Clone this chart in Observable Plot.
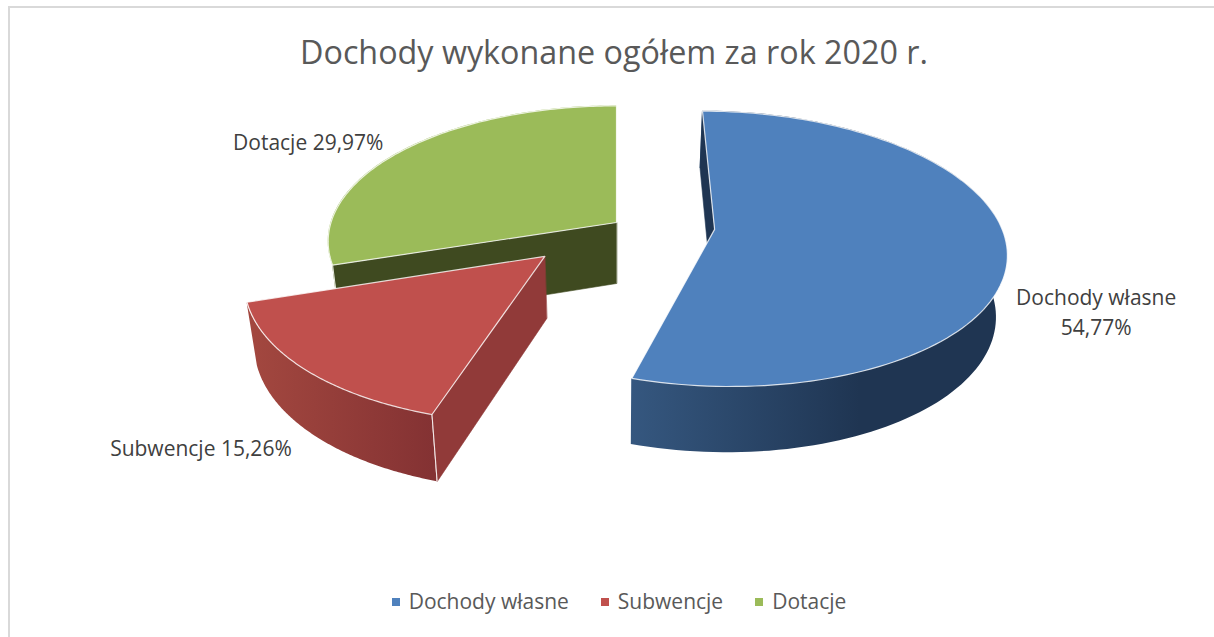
<!DOCTYPE html>
<html lang="pl">
<head>
<meta charset="utf-8">
<script src="https://cdn.jsdelivr.net/npm/d3@7"></script>
<script src="https://cdn.jsdelivr.net/npm/@observablehq/plot@0.6"></script>
<style>
  html, body { margin: 0; padding: 0; background: #fff; }
  #page { position: relative; width: 1214px; height: 637px; overflow: hidden; font-family: "Open Sans", sans-serif; }
  #frame { position: absolute; left: 8px; top: 6px; right: 0; bottom: -4px; border-left: 2px solid #d9d9d9; border-top: 2px solid #d9d9d9; }
  #title { position: relative; height: 84px; line-height: 102px; text-align: center; font-size: 32.3px; color: #595959; white-space: nowrap; padding-left: 14px; box-sizing: border-box; }
  #chart { position: relative; height: 490px; }
  #legend { position: relative; height: 63px; display: flex; justify-content: center; align-items: flex-start; padding: 13px 0 0 24px; box-sizing: border-box; font-size: 21px; color: #595959; }
  .item { display: flex; align-items: center; margin: 0 16px; line-height: 28px; }
  .swatch { width: 8px; height: 8px; margin-right: 9px; margin-top: 2px; }
</style>
</head>
<body>
<div id="page">
  <div id="frame"></div>
  <div id="title">Dochody wykonane ogółem za rok 2020 r.</div>
  <div id="chart"></div>
  <div id="legend"></div>
</div>
<script>
// Data
const categories = ["Dochody własne", "Subwencje", "Dotacje"];
const shares = [54.77, 15.26, 29.97];
const explosion = [0.345, 0.345, 0];
const labelBreaks = [true, false, false];

// Styles
const topColors = ["#4f81bd", "#c0504d", "#9bbb59"];
const wallColors = ["#1f3552", "#913a39", "#3f4a20"];
const rimLight = ["#35577f", "#a2473f", "#a3c060"];
const rimDark = ["#1f3552", "#843233", "#9bbb59"];
const rimGradientX = [[632, 860], [255, 432], [325, 340]];
const labelDx = [89, -104, -95];
const labelDy = [60, 77, -10];

// 3D view
const view = {x0: 616, y0: 222, a: 285.5, b: 133, p: 0.14, depth: 61, shrinkX: 0.972, growY: 1.032};
function project(wx, wz, base) {
  const s = 1 / (1 + view.p * wz);
  return {
    x: view.x0 + (base ? view.shrinkX : 1) * view.a * wx * s,
    y: view.y0 + (base ? view.depth : 0) - (base ? view.growY : 1) * view.b * wz * s
  };
}

const total = d3.sum(shares);
let running = 0;
const slices = categories.map((name, i) => {
  const start = running / total * 2 * Math.PI;
  running += shares[i];
  const end = running / total * 2 * Math.PI;
  const mid = (start + end) / 2;
  return {
    i, name, start, end, mid,
    cx: explosion[i] * Math.sin(mid),
    cz: explosion[i] * Math.cos(mid)
  };
});
const rimPoint = (sl, t, base) => project(sl.cx + Math.sin(t), sl.cz + Math.cos(t), base);
const apex = (sl, base) => project(sl.cx, sl.cz, base);
const arc = (sl) => d3.range(0, 121).map(j => sl.start + (sl.end - sl.start) * j / 120);

function topPolygon(sl) {
  return [apex(sl, false), ...arc(sl).map(t => rimPoint(sl, t, false))];
}
function wall(sl, t) {
  return [apex(sl, false), rimPoint(sl, t, false), rimPoint(sl, t, true), apex(sl, true)];
}
function rimRows(sl) {
  return arc(sl).map(t => {
    const p = rimPoint(sl, t, false), q = rimPoint(sl, t, true);
    return {x1: p.x, y1: p.y, x2: q.x, y2: q.y};
  });
}

// Horizontal gradients for the curved sides, in the SVG's pixel space
function gradients() {
  const defs = d3.create("svg:defs");
  slices.forEach(sl => {
    const g = defs.append("linearGradient")
      .attr("id", "rim" + sl.i)
      .attr("gradientUnits", "userSpaceOnUse")
      .attr("x1", rimGradientX[sl.i][0]).attr("x2", rimGradientX[sl.i][1])
      .attr("y1", 0).attr("y2", 0);
    g.append("stop").attr("offset", 0).attr("stop-color", rimLight[sl.i]);
    g.append("stop").attr("offset", 1).attr("stop-color", rimDark[sl.i]);
  });
  return defs.node();
}

function polygon(points, fill, extra = {}) {
  return Plot.line(points, {x: "x", y: "y", fill, stroke: fill, strokeWidth: 0.6, curve: "linear-closed", ...extra});
}
function rimMark(sl) {
  return Plot.area(rimRows(sl), {x1: "x1", y1: "y1", x2: "x2", y2: "y2", fill: `url(#rim${sl.i})`});
}
function topMark(sl) {
  return polygon(topPolygon(sl), topColors[sl.i], {stroke: "#ffffff", strokeOpacity: 0.8, strokeWidth: 1.2});
}
function edge(sl, t) {
  const p = rimPoint(sl, t, false), q = rimPoint(sl, t, true);
  return Plot.link([{p, q}], {x1: d => d.p.x, y1: d => d.p.y, x2: d => d.q.x, y2: d => d.q.y, stroke: "#ffffff", strokeOpacity: 0.85, strokeWidth: 1.1});
}

const [blue, red, green] = slices;
const labelRows = slices.map(sl => {
  const pct = shares[sl.i].toFixed(2).replace(".", ",") + "%";
  const at = rimPoint(sl, sl.mid, false);
  return {x: at.x, y: at.y, text: sl.name + (labelBreaks[sl.i] ? "\n" : " ") + pct, i: sl.i};
});

const chart = Plot.plot({
  width: 1214,
  height: 490,
  margin: 0,
  x: {domain: [0, 1214], range: [0, 1214], axis: null},
  y: {domain: [84, 574], range: [0, 490], axis: null},
  style: {background: "transparent", fontFamily: "'Open Sans', sans-serif"},
  marks: [
    gradients,
    // Dotacje
    rimMark(green),
    polygon(wall(green, green.start), wallColors[2]),
    edge(green, green.start),
    topMark(green),
    // Dochody własne
    rimMark(blue),
    polygon(wall(blue, blue.start), wallColors[0]),
    topMark(blue),
    // Subwencje
    rimMark(red),
    polygon(wall(red, red.start), wallColors[1]),
    edge(red, red.start),
    topMark(red),
    // Labels
    ...labelRows.map(r => Plot.text([r], {
      x: "x", y: "y", text: "text", dx: labelDx[r.i], dy: labelDy[r.i], fontSize: 21, lineHeight: 1.43, fill: "#404040"
    }))
  ]
});
document.getElementById("chart").append(chart);

const legend = document.getElementById("legend");
categories.forEach((name, i) => {
  const item = document.createElement("div");
  item.className = "item";
  const sw = document.createElement("span");
  sw.className = "swatch";
  sw.style.background = topColors[i];
  const tx = document.createElement("span");
  tx.textContent = name;
  item.append(sw, tx);
  legend.append(item);
});
</script>
</body>
</html>
